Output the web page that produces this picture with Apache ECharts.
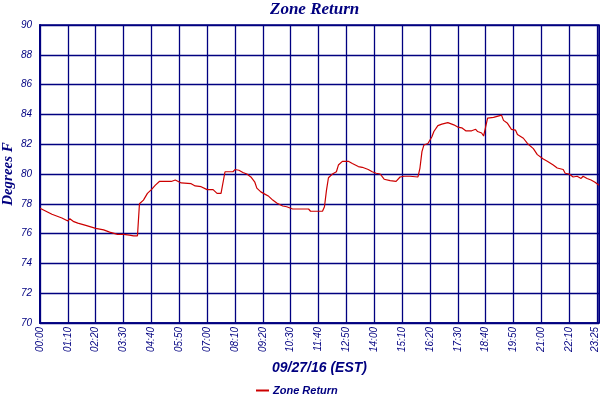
<!DOCTYPE html>
<html>
<head>
<meta charset="utf-8">
<script src="https://cdn.jsdelivr.net/npm/echarts@6/dist/echarts.min.js"></script>
<style>html,body{margin:0;padding:0;background:#fff}#c{width:600px;height:400px}</style>
</head>
<body>
<div id="c"></div>
<script>
const times = ["00:00","00:15","00:30","00:40","00:55","01:10","01:15","01:25","01:35","01:55","02:20","02:40","02:55","03:15","03:30","03:45","03:55","04:05","04:10","04:20","04:30","04:40","04:50","04:55","05:00","05:20","05:25","05:30","05:40","05:45","05:55","06:20","06:30","06:45","06:50","07:00","07:15","07:25","07:35","07:45","08:05","08:10","08:20","08:30","08:40","08:50","09:00","09:05","09:15","09:25","09:35","09:45","09:55","10:10","10:20","10:35","11:15","11:20","11:50","11:55","12:00","12:05","12:15","12:25","12:30","12:35","12:40","12:55","13:05","13:20","13:30","13:45","13:55","14:05","14:15","14:25","14:40","14:55","15:05","15:15","15:30","15:35","15:50","15:55","16:00","16:05","16:15","16:25","16:30","16:40","16:50","16:55","17:05","17:10","17:20","17:30","17:40","17:50","18:05","18:15","18:20","18:30","18:35","18:40","18:45","19:00","19:05","19:20","19:25","19:35","19:45","19:55","20:00","20:15","20:25","20:40","20:50","21:05","21:15","21:30","21:40","21:55","22:00","22:10","22:20","22:30","22:40","22:45","22:55","23:05","23:15","23:25"];
const temps = [77.7,77.5,77.3,77.2,77.05,76.85,77.0,76.8,76.7,76.55,76.35,76.25,76.1,75.95,75.95,75.9,75.85,75.85,78.0,78.25,78.7,78.95,79.25,79.35,79.5,79.5,79.6,79.5,79.6,79.5,79.4,79.35,79.2,79.15,79.05,78.95,78.95,78.7,78.7,80.15,80.15,80.3,80.25,80.1,80.0,79.8,79.45,79.05,78.8,78.65,78.5,78.25,78.05,77.85,77.8,77.65,77.65,77.5,77.5,77.8,78.9,79.75,80.0,80.15,80.6,80.65,80.85,80.85,80.7,80.5,80.45,80.3,80.15,80.05,80.0,79.65,79.55,79.5,79.8,79.85,79.85,79.8,79.8,80.4,81.5,81.95,82.05,82.5,82.85,83.25,83.35,83.45,83.45,83.35,83.3,83.15,83.1,82.9,82.9,83.0,82.85,82.75,82.55,83.15,83.75,83.8,83.9,83.95,83.6,83.4,83.0,82.95,82.65,82.4,82.05,81.7,81.3,81.0,80.85,80.6,80.4,80.3,80.05,80.0,79.8,79.85,79.7,79.85,79.7,79.6,79.45,79.25];
const yTicks = [70,72,74,76,78,80,82,84,86,88,90];

const toMin = s => { const p = s.split(':'); return (+p[0]) * 60 + (+p[1]); };
const fmt = m => String(Math.floor(m / 60)).padStart(2, '0') + ':' + String(m % 60).padStart(2, '0');
const data = times.map((t, i) => [toMin(t), temps[i]]);
const xMax = toMin(times[times.length - 1]);

const NAVY = '#000080';
const LBL = { fontFamily: 'Liberation Sans', fontStyle: 'italic', fontSize: 10, color: NAVY };
const chart = echarts.init(document.getElementById('c'));
chart.setOption({
  animation: false,
  backgroundColor: '#fff',
  title: {
    text: 'Zone Return', left: 270, top: 1, padding: 0,
    textStyle: { fontFamily: 'Liberation Serif', fontStyle: 'italic', fontWeight: 'bold', fontSize: 17, color: NAVY }
  },
  legend: {
    top: 385, left: 256, icon: 'rect', itemWidth: 13, itemHeight: 2, itemGap: 4, padding: 0,
    textStyle: { fontFamily: 'Liberation Sans', fontStyle: 'italic', fontWeight: 'bold', fontSize: 11, color: NAVY, padding: [0,0,0,-1] },
    data: ['Zone Return']
  },
  grid: { left: 40, right: 1, top: 25, bottom: 77, containLabel: false, outerBoundsMode: 'none', show: true, borderColor: NAVY, borderWidth: 1.5, backgroundColor: 'transparent' },
  xAxis: {
    type: 'value', min: 0, max: xMax, interval: 70,
    name: '09/27/16 (EST)', nameLocation: 'middle', nameGap: 38, nameMoveOverlap: false,
    nameTextStyle: { fontFamily: 'Liberation Sans', fontStyle: 'italic', fontWeight: 'bold', fontSize: 14, color: NAVY },
    axisLine: { show: true, lineStyle: { color: NAVY, width: 1.5 } },
    axisTick: { show: false },
    splitLine: { show: true, lineStyle: { color: NAVY, width: 1.3 } },
    axisLabel: Object.assign({
      rotate: 90, margin: 4, showMaxLabel: true, hideOverlap: false,
      formatter: v => (v === 1400 ? '' : (v === xMax ? '{last|' + fmt(v) + '}' : fmt(v))),
      rich: { last: Object.assign({ padding: [0, 0, 7, 0] }, LBL) }
    }, LBL)
  },
  yAxis: {
    type: 'value', min: yTicks[0], max: yTicks[yTicks.length - 1], interval: 2,
    name: 'Degrees F', nameLocation: 'middle', nameGap: 24, nameMoveOverlap: false,
    nameTextStyle: { fontFamily: 'Liberation Serif', fontStyle: 'italic', fontWeight: 'bold', fontSize: 15, color: NAVY },
    axisLine: { show: true, lineStyle: { color: NAVY, width: 2 } },
    axisTick: { show: false },
    splitLine: { show: true, lineStyle: { color: NAVY, width: 1.3 } },
    axisLabel: Object.assign({ margin: 8 }, LBL)
  },
  series: [{
    name: 'Zone Return', type: 'line', data: data, symbol: 'none',
    lineStyle: { color: '#cc0000', width: 1.2 }, itemStyle: { color: '#cc0000' }
  }]
});
</script>
</body>
</html>
